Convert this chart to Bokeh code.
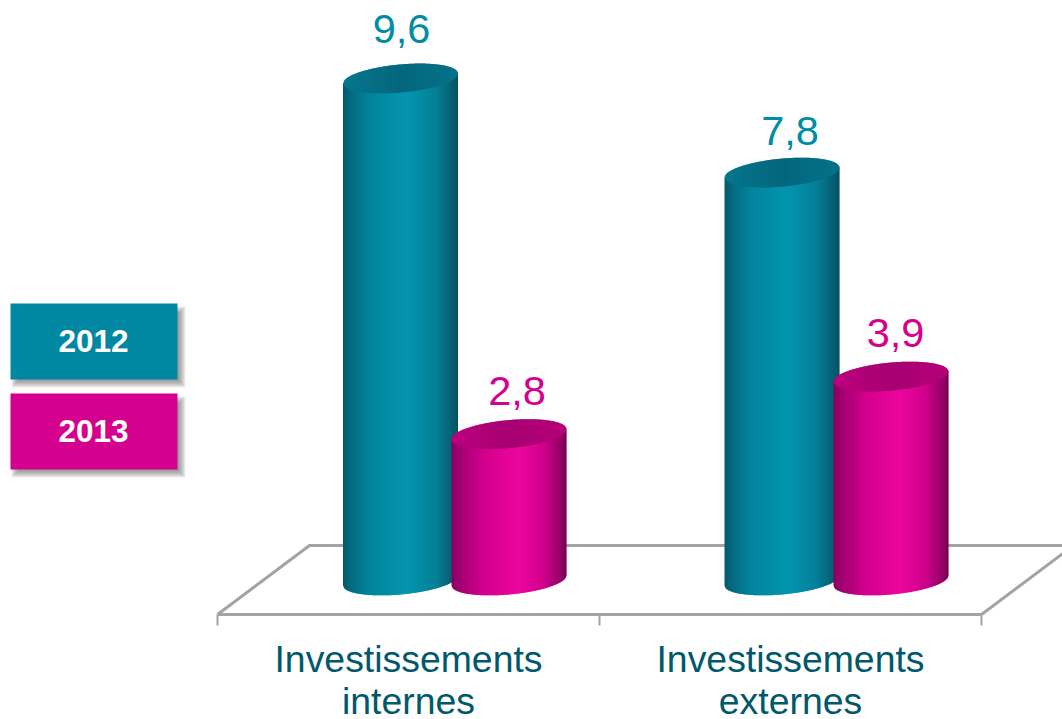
import numpy as np
from bokeh.core.properties import value
from bokeh.embed import file_html
from bokeh.models import FixedTicker
from bokeh.plotting import figure
from bokeh.resources import INLINE

categories = ["Investissements\ninternes", "Investissements\nexternes"]
series_names = ["2012", "2013"]
values_2012 = [9.6, 7.8]
values_2013 = [2.8, 3.9]
value_labels_2012 = ["9,6", "7,8"]
value_labels_2013 = ["2,8", "3,9"]

W, H = 1062, 719
PX_X = 382.0      # pixels per category
PX_Y = 52.3       # pixels per unit
X0, Y0 = 217, 580   # pixels of category 0 / value 0
x_range = (-X0 / PX_X, (W - X0) / PX_X)
y_range = ((Y0 - H) / PX_Y, Y0 / PX_Y)

p = figure(width=W, height=H, output_backend="svg", toolbar_location=None,
           x_range=x_range, y_range=y_range, y_axis_location=None,
           min_border_left=0, min_border_right=0, min_border_top=0, min_border_bottom=0)
p.outline_line_color = None
p.grid.visible = False
p.background_fill_color = "white"
p.border_fill_color = "white"

AXIS = "#A3A3A3"
fy = (Y0 - 614) / PX_Y
by = (Y0 - 545) / PX_Y
dx = 92 / PX_X

ax = p.xaxis[0]
ax.fixed_location = fy
ax.ticker = FixedTicker(ticks=[0.5, 1.5], minor_ticks=[0, 1, 2])
ax.major_label_overrides = {0.5: categories[0], 1.5: categories[1]}
ax.bounds = (0, 2)
ax.axis_line_color = AXIS
ax.axis_line_width = 3
ax.major_tick_line_color = None
ax.major_tick_in = 0
ax.major_tick_out = 0
ax.minor_tick_line_color = AXIS
ax.minor_tick_line_width = 2
ax.minor_tick_in = 0
ax.minor_tick_out = 11
ax.major_label_standoff = 12
ax.major_label_text_font = "Liberation Sans"
ax.major_label_text_font_size = "37.4px"
ax.major_label_text_color = "#00586C"
ax.major_label_text_line_height = 1.0

# floor in perspective
p.line([0, dx, 2 + dx, 2], [fy, by, by, fy], line_color=AXIS, line_width=3)

TEAL = [(0, "#06596A"), (.06, "#056A7E"), (.22, "#02839C"), (.55, "#0395AF"), (.8, "#047F97"), (.94, "#055F72"), (1, "#04505F")]
PINK = [(0, "#86005C"), (.06, "#A00070"), (.28, "#D3008D"), (.58, "#EC069D"), (.8, "#CF008A"), (.94, "#950068"), (1, "#76004F")]
TEAL_TOP = [(0, "#04768D"), (.5, "#04667C"), (1, "#04728A")]
PINK_TOP = [(0, "#BC007E"), (.5, "#A60072"), (1, "#B6007A")]


def shade(stops, u):
    pos = [s[0] for s in stops]
    rgb = [[int(s[1][i:i + 2], 16) for i in (1, 3, 5)] for s in stops]
    return "#%02x%02x%02x" % tuple(int(round(np.interp(u, pos, [c[k] for c in rgb]))) for k in range(3))


A = 57.5 / PX_X
B = 14 / PX_Y
S = 5 / PX_Y


def arc(u, sign):
    return sign * B * np.sqrt(np.clip(1 - u * u, 0, 1)) + S * u


def cylinder(cx, val, stops, top_stops):
    xs, ys, cs = [], [], []
    us = np.linspace(-1, 1, 116)
    for a, b in zip(us[:-1], us[1:]):
        c = min(b + 0.012, 1.0)
        xs.append([cx + a * A, cx + c * A, cx + c * A, cx + a * A])
        ys.append([arc(a, -1), arc(c, -1), val + S * c, val + S * a])
        cs.append(shade(stops, (a + 1) / 2))
    p.patches(xs=xs, ys=ys, fill_color=cs, line_color=None)
    xs, ys, cs = [], [], []
    for a, b in zip(us[:-1], us[1:]):
        c = min(b + 0.012, 1.0)
        xs.append([cx + a * A, cx + c * A, cx + c * A, cx + a * A])
        ys.append([val + arc(a, -1), val + arc(c, -1), val + arc(c, 1), val + arc(a, 1)])
        cs.append(shade(top_stops, (a + 1) / 2))
    p.patches(xs=xs, ys=ys, fill_color=cs, line_color=None)


centers_2012 = [(400 - 217) / PX_X, (781.5 - 217) / PX_X]
centers_2013 = [(508.5 - 217) / PX_X, (890.5 - 217) / PX_X]
for i in range(len(categories)):
    cylinder(centers_2012[i], values_2012[i], TEAL, TEAL_TOP)
    cylinder(centers_2013[i], values_2013[i], PINK, PINK_TOP)

font = value("Liberation Sans")
# label placement relative to each bar top, in pixels
nudge_x_2012, nudge_y_2012 = [1, 8], [49, 42]
nudge_x_2013, nudge_y_2013 = [8, 4.5], [43, 43.5]
p.text(x=[c + d / PX_X for c, d in zip(centers_2012, nudge_x_2012)],
       y=[v + d / PX_Y for v, d in zip(values_2012, nudge_y_2012)],
       text=value_labels_2012, text_font=font,
       text_font_size="41.5px", text_color="#008BA6", text_align="center", text_baseline="middle")
p.text(x=[c + d / PX_X for c, d in zip(centers_2013, nudge_x_2013)],
       y=[v + d / PX_Y for v, d in zip(values_2013, nudge_y_2013)],
       text=value_labels_2013, text_font=font,
       text_font_size="41.5px", text_color="#D6008F", text_align="center", text_baseline="middle")


# legend keys
def px(x):
    return (np.asarray(x, dtype=float) - X0) / PX_X


def py(y):
    return (Y0 - np.asarray(y, dtype=float)) / PX_Y


keys = [(303, 379, "#0088A3"), (393, 469, "#D5008D")]
for (t, b, col), name in zip(keys, series_names):
    for g in range(4, -4, -1):
        p.quad(left=[px(15 - g)], right=[px(177 + 4 + g)], top=[py(t + 7 - g)], bottom=[py(b + 4 + g)],
               fill_color="#555555", fill_alpha=0.1, line_color=None)
    p.quad(left=[px(10)], right=[px(177)], top=[py(t)], bottom=[py(b)], fill_color=col, line_color=None)
    p.text(x=[px(93)], y=[py((t + b) / 2 - 0.5)], text=[name], text_font=font, text_font_size="31.5px",
           text_font_style="bold", text_color="white", text_align="center", text_baseline="middle")

open("out.html", "w").write(file_html(p, INLINE))
